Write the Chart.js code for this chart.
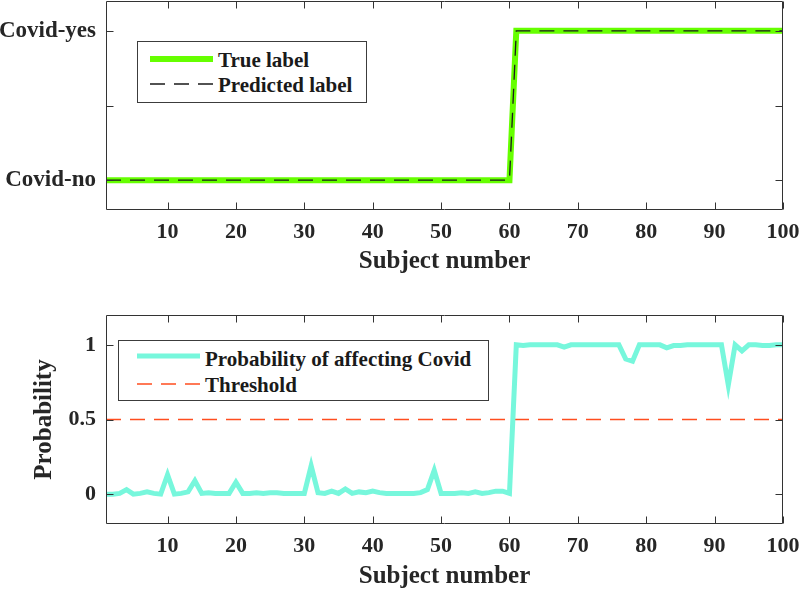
<!DOCTYPE html>
<html>
<head>
<meta charset="utf-8">
<script src="https://cdn.jsdelivr.net/npm/chart.js@4.4.1/dist/chart.umd.min.js"></script>
<style>
  body { margin: 0; background: #fff; }
  #wrap { position: relative; width: 801px; height: 591px; font-family: 'Liberation Serif', 'Times New Roman', serif; }
  canvas { position: absolute; left: 0; }
  .legend { position: absolute; border: 1px solid #3c3c3c; background: #fff; box-sizing: border-box; }
  .legend span { position: absolute; font-weight: bold; font-size: 21px; line-height: 24px; color: #1a1a1a; white-space: nowrap; }
  .legend svg { position: absolute; left: 0; top: 0; }
</style>
</head>
<body>
<div id="wrap">
  <canvas id="labelChart" width="801" height="276" style="top:0"></canvas>
  <canvas id="probChart" width="801" height="300" style="top:291px"></canvas>

  <div class="legend" style="left:137px; top:41px; width:230px; height:62px;">
    <svg width="228" height="60">
      <line x1="12" y1="17" x2="75" y2="17" stroke="rgb(102,255,0)" stroke-width="6"/>
      <line x1="12" y1="42" x2="75" y2="42" stroke="#1a1a1a" stroke-width="1.3" stroke-dasharray="15 9"/>
    </svg>
    <span style="left:80px; top:6px;">True label</span>
    <span style="left:80px; top:31px;">Predicted label</span>
  </div>

  <div class="legend" style="left:118px; top:340px; width:371px; height:61px;">
    <svg width="369" height="59">
      <line x1="18" y1="15" x2="81" y2="15" stroke="#77f7dc" stroke-width="5"/>
      <line x1="18" y1="43" x2="81" y2="43" stroke="#ff4d1f" stroke-width="1.3" stroke-dasharray="15 9"/>
    </svg>
    <span style="left:86px; top:6px;">Probability of affecting Covid</span>
    <span style="left:86px; top:32px;">Threshold</span>
  </div>
</div>

<script>
// sujets 1..100
const subjects = Array.from({ length: 100 }, (_, i) => i + 1);

// 0 = Covid-no, 1 = Covid-yes
const trueLabel = [
  0,0,0,0,0,0,0,0,0,0, 0,0,0,0,0,0,0,0,0,0, 0,0,0,0,0,0,0,0,0,0,
  0,0,0,0,0,0,0,0,0,0, 0,0,0,0,0,0,0,0,0,0, 0,0,0,0,0,0,0,0,0,0,
  1,1,1,1,1,1,1,1,1,1, 1,1,1,1,1,1,1,1,1,1, 1,1,1,1,1,1,1,1,1,1,
  1,1,1,1,1,1,1,1,1,1
];
const predictedLabel = [
  0,0,0,0,0,0,0,0,0,0, 0,0,0,0,0,0,0,0,0,0, 0,0,0,0,0,0,0,0,0,0,
  0,0,0,0,0,0,0,0,0,0, 0,0,0,0,0,0,0,0,0,0, 0,0,0,0,0,0,0,0,0,0,
  1,1,1,1,1,1,1,1,1,1, 1,1,1,1,1,1,1,1,1,1, 1,1,1,1,1,1,1,1,1,1,
  1,1,1,1,1,1,1,1,1,1
];

const probability = [
  0, 0, 0.005, 0.03, 0, 0.005, 0.015, 0.005, 0, 0.13,
  0, 0.005, 0.015, 0.09, 0.005, 0.01, 0.005, 0.005, 0.005, 0.08,
  0.005, 0.005, 0.01, 0.005, 0.01, 0.01, 0.005, 0.005, 0.005, 0.005,
  0.19, 0.01, 0.005, 0.02, 0.005, 0.035, 0.005, 0.015, 0.01, 0.02,
  0.01, 0.005, 0.005, 0.005, 0.005, 0.005, 0.01, 0.03, 0.16, 0.005,
  0.005, 0.005, 0.01, 0.005, 0.015, 0.005, 0.01, 0.02, 0.02, 0.005,
  1.0, 0.995, 1.0, 1.0, 1.0, 1.0, 1.0, 0.985, 1.0, 1.0,
  1.0, 1.0, 1.0, 1.0, 1.0, 1.0, 0.905, 0.89, 1.0, 1.0,
  1.0, 1.0, 0.98, 0.995, 0.995, 1.0, 1.0, 1.0, 1.0, 1.0,
  1.0, 0.73, 1.0, 0.96, 1.0, 1.0, 0.995, 0.995, 1.0, 1.0
];
const threshold = 0.5;

const xTicks = [10, 20, 30, 40, 50, 60, 70, 80, 90, 100];
const labelYTicks = [0, 0.5, 1];
const labelYTickText = ['Covid-no', '', 'Covid-yes'];
const probYTicks = [0, 0.5, 1];
const probYTickText = ['0', '0.5', '1'];

const FONT = 'Liberation Serif';
const TEXT = '#262626';

// cadre + graduations vers l'intérieur (style MATLAB)
const framePlugin = {
  id: 'frame',
  afterDatasetsDraw(chart) {
    const { ctx, chartArea: a, scales: { x, y } } = chart;
    const L = Math.round(a.left) + 0.5, R = Math.round(a.right) - 0.5;
    const T = Math.round(a.top) + 0.5, B = Math.round(a.bottom) - 0.5;
    const len = 7;
    ctx.save();
    ctx.strokeStyle = '#333';
    ctx.lineWidth = 1;
    ctx.beginPath();
    ctx.rect(L, T, R - L, B - T);
    x.ticks.forEach(t => {
      const px = Math.round(x.getPixelForValue(t.value)) + 0.5;
      ctx.moveTo(px, B); ctx.lineTo(px, B - len);
      ctx.moveTo(px, T); ctx.lineTo(px, T + len);
    });
    y.ticks.forEach(t => {
      const py = Math.round(y.getPixelForValue(t.value)) + 0.5;
      ctx.moveTo(L, py); ctx.lineTo(L + len, py);
      ctx.moveTo(R, py); ctx.lineTo(R - len, py);
    });
    ctx.stroke();
    ctx.restore();
  }
};

function xScale(height) {
  return {
    type: 'linear', min: 1, max: 100,
    grid: { display: false, drawTicks: false },
    border: { display: false },
    afterBuildTicks: a => { a.ticks = xTicks.map(v => ({ value: v })); },
    afterFit: a => { a.height = height; a.paddingLeft = 0; a.paddingRight = 0; },
    ticks: { autoSkip: false, maxRotation: 0, padding: 9, color: TEXT, font: { family: FONT, size: 22, weight: 'bold' } },
    title: { display: true, text: 'Subject number', color: TEXT, font: { family: FONT, size: 25, weight: 'bold', lineHeight: 1 }, padding: { top: 0, bottom: 1.5 } }
  };
}

function yScale(tickValues, tickText, title, size) {
  return {
    type: 'linear', min: -0.2, max: 1.2,
    grid: { display: false, drawTicks: false },
    border: { display: false },
    afterBuildTicks: a => { a.ticks = tickValues.map(v => ({ value: v })); },
    afterFit: a => { a.width = 106; a.paddingTop = 0; a.paddingBottom = 0; },
    ticks: {
      autoSkip: false, padding: 10, color: TEXT,
      font: { family: FONT, size: size, weight: 'bold' },
      callback: v => tickText[tickValues.indexOf(v)]
    },
    title: title
      ? { display: true, text: title, color: TEXT, font: { family: FONT, size: 25, weight: 'bold', lineHeight: 1 }, padding: { top: 32.5, bottom: 0 } }
      : { display: false }
  };
}

const common = {
  responsive: false,
  animation: false,
  devicePixelRatio: 1,
  plugins: { legend: { display: false }, tooltip: { enabled: false } },
  elements: { point: { radius: 0 }, line: { tension: 0 } }
};

new Chart(document.getElementById('labelChart'), {
  type: 'line',
  data: {
    datasets: [{
      label: 'True label',
      data: subjects.map((s, i) => ({ x: s, y: trueLabel[i] })),
      borderColor: 'rgb(102,255,0)',
      borderWidth: 6,
      borderJoinStyle: 'miter',
      order: 2
    }, {
      label: 'Predicted label',
      data: subjects.map((s, i) => ({ x: s, y: predictedLabel[i] })),
      borderColor: '#1a1a1a',
      borderWidth: 1.3,
      borderDash: [15, 9],
      order: 1
    }]
  },
  options: Object.assign({}, common, {
    layout: { padding: { top: 1, right: 18, left: 0, bottom: 0 } },
    scales: {
      x: xScale(66),
      y: yScale(labelYTicks, labelYTickText, null, 23)
    }
  }),
  plugins: [framePlugin]
});

new Chart(document.getElementById('probChart'), {
  type: 'line',
  data: {
    datasets: [{
      label: 'Probability of affecting Covid',
      data: subjects.map((s, i) => ({ x: s, y: probability[i] })),
      borderColor: '#77f7dc',
      borderWidth: 5,
      order: 1
    }, {
      label: 'Threshold',
      data: [subjects[0], subjects[subjects.length - 1]].map(s => ({ x: s, y: threshold })),
      borderColor: '#ff4d1f',
      borderWidth: 1.3,
      borderDash: [15, 9],
      order: 2
    }]
  },
  options: Object.assign({}, common, {
    layout: { padding: { top: 24, right: 18, left: 0, bottom: 0 } },
    scales: {
      x: xScale(67),
      y: yScale(probYTicks, probYTickText, 'Probability', 22)
    }
  }),
  plugins: [framePlugin]
});
</script>
</body>
</html>
